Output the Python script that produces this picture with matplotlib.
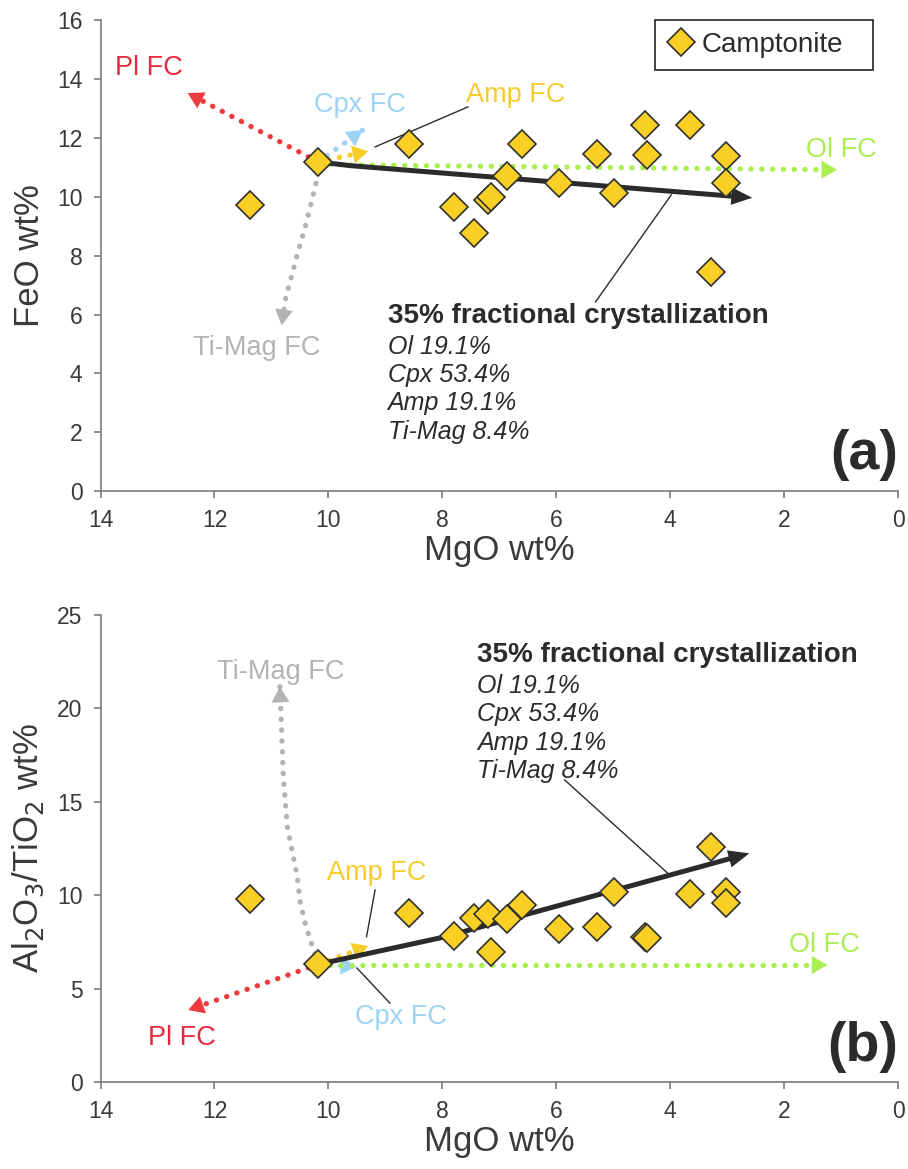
import matplotlib
matplotlib.use("agg")
import matplotlib.pyplot as plt
import numpy as np

plt.rcParams['font.family'] = ['Liberation Sans', 'DejaVu Sans']

# sample data (MgO shared by both panels)
mgo = [11.37, 10.18, 8.59, 7.79, 7.44, 7.20, 7.15, 6.86, 6.60, 5.95,
       5.29, 4.98, 4.44, 4.40, 3.65, 3.28, 3.02, 3.02]
feo = [9.73, 11.19, 11.80, 9.66, 8.78, 9.90, 10.00, 10.71, 11.80, 10.47,
       11.46, 10.13, 12.44, 11.42, 12.44, 7.46, 11.39, 10.47]
al_ti = [9.77, 6.30, 9.05, 7.83, 8.79, 8.97, 6.94, 8.70, 9.47, 8.17,
         8.27, 10.18, 7.74, 7.68, 10.05, 12.58, 10.18, 9.56]

# fractionation vectors, panel (a): FeO vs MgO
pl_a_x, pl_a_y = [10.18, 12.47], [11.19, 13.53]
cpx_a_x, cpx_a_y = [10.18, 9.40], [11.19, 12.27]
amp_a_x, amp_a_y = [10.18, 9.30], [11.19, 11.55]
ol_a_x, ol_a_y = [10.18, 1.07], [11.10, 10.92]
tim_a_x = [10.18, 10.20, 10.30, 10.41, 10.53, 10.64, 10.75, 10.82]
tim_a_y = [11.19, 10.60, 9.80, 8.95, 8.16, 7.35, 6.55, 5.64]
fc_a_x, fc_a_y = [10.18, 9.60, 2.56], [11.19, 11.06, 9.97]

# panel (b): Al2O3/TiO2 vs MgO
pl_b_x, pl_b_y = [10.17, 12.46], [6.30, 3.85]
cpx_b_x, cpx_b_y = [10.17, 9.51], [6.30, 6.17]
amp_b_x, amp_b_y = [10.17, 9.30], [6.30, 7.27]
ol_b_x, ol_b_y = [10.17, 1.24], [6.26, 6.26]
tim_b_x = [10.17, 10.28, 10.41, 10.50, 10.55, 10.64, 10.72, 10.79, 10.83, 10.85]
tim_b_y = [6.30, 7.24, 8.50, 9.73, 11.07, 12.40, 13.65, 16.26, 19.47, 21.14]
fc_b_x, fc_b_y = [10.17, 7.99, 2.61], [6.30, 7.74, 12.23]

mineral_lines = ['Ol 19.1%', 'Cpx 53.4%', 'Amp 19.1%', 'Ti-Mag 8.4%']

RED = '#ef3b3f'
BLUE = '#9dd3f5'
GOLD = '#f7cb2a'
GREEN = '#abee50'
GRAY = '#b3b3b3'
DARK = '#2b2b2b'
TXT = '#3a3a3a'


def dotted(ax, xs, ys, color):
    ax.plot(xs, ys, color=color, lw=3.8, linestyle=(0, (0.05, 2.0)),
            dash_capstyle='round', zorder=2, clip_on=False)
    ax.annotate('', xy=(xs[-1], ys[-1]), xytext=(xs[-2], ys[-2]),
                arrowprops=dict(arrowstyle='-|>,head_length=0.45,head_width=0.26',
                                color=color, lw=0, mutation_scale=25,
                                shrinkA=0, shrinkB=0), zorder=2)


def solid_arrow(ax, xs, ys):
    # stop the shaft ~10 px before the tip so the head covers it
    pts = ax.transData.transform(np.column_stack([xs, ys]))
    d = pts[-1] - pts[-2]
    end = pts[-1] - d / np.hypot(*d) * 10
    ex, ey = ax.transData.inverted().transform(end)
    ax.plot(list(xs[:-1]) + [ex], list(ys[:-1]) + [ey],
            color=DARK, lw=3.6, solid_capstyle='butt', solid_joinstyle='round', zorder=3)
    ax.annotate('', xy=(xs[-1], ys[-1]), xytext=(xs[-2], ys[-2]),
                arrowprops=dict(arrowstyle='-|>,head_length=1.0,head_width=0.42',
                                color=DARK, lw=0, mutation_scale=15,
                                shrinkA=0, shrinkB=0), zorder=3)


def style_axes(ax, ymax, ystep):
    ax.set_xlim(14, 0)
    ax.set_ylim(0, ymax)
    ax.set_xticks(range(14, -1, -2))
    ax.set_yticks(range(0, ymax + 1, ystep))
    for s in ['top', 'right']:
        ax.spines[s].set_visible(False)
    for s in ['left', 'bottom']:
        ax.spines[s].set_color('#7a7a7a')
        ax.spines[s].set_linewidth(1.2)
    ax.tick_params(direction='out', length=5, width=1.2, color='#7a7a7a',
                   labelsize=16.5, labelcolor=TXT, pad=8)
    ax.set_xlabel('MgO wt%', fontsize=25, color=TXT)
    ax.xaxis.set_label_coords(0.5, -0.092)


def text_block(ax, x, ys):
    ax.text(x, ys[0], '35% fractional crystallization', fontsize=20,
            fontweight='bold', color=DARK, ha='left', va='center')
    for t, y in zip(mineral_lines, ys[1:]):
        ax.text(x, y, t, fontsize=18, style='italic', color=DARK,
                ha='left', va='center')


fig = plt.figure(figsize=(9.08, 11.69), dpi=100)
ax1 = fig.add_axes([0.1107, 0.580, 0.8783, 0.4025])
ax2 = fig.add_axes([0.1107, 0.0744, 0.8783, 0.3999])
style_axes(ax1, 16, 2)
style_axes(ax2, 25, 5)

# ---- panel (a)
ax1.set_ylabel('FeO wt%', fontsize=25, color=TXT)
ax1.yaxis.set_label_coords(-0.068, 0.5)
dotted(ax1, pl_a_x, pl_a_y, RED)
dotted(ax1, cpx_a_x, cpx_a_y, BLUE)
dotted(ax1, amp_a_x, amp_a_y, GOLD)
dotted(ax1, ol_a_x, ol_a_y, GREEN)
dotted(ax1, tim_a_x, tim_a_y, GRAY)
solid_arrow(ax1, fc_a_x, fc_a_y)
ax1.plot(mgo, feo, 'D', ms=14.5, mfc='#f9cf26', mec='#303030', mew=1.2,
         ls='none', zorder=5, label='Camptonite')
ax1.text(13.15, 14.39, 'Pl FC', color='#e8283c', fontsize=19.5, ha='center', va='center')
ax1.text(9.45, 13.13, 'Cpx FC', color=BLUE, fontsize=19.5, ha='center', va='center')
ax1.text(6.71, 13.47, 'Amp FC', color=GOLD, fontsize=19.5, ha='center', va='center')
ax1.text(11.26, 4.86, 'Ti-Mag FC', color=GRAY, fontsize=19.5, ha='center', va='center')
ax1.text(0.99, 11.60, 'Ol FC', color=GREEN, fontsize=19.5, ha='center', va='center')
ax1.plot([9.18, 7.55], [11.70, 13.06], color=DARK, lw=1.0, zorder=4)
ax1.plot([5.31, 3.98], [6.43, 10.07], color=DARK, lw=1.0, zorder=4)
text_block(ax1, 8.96, [5.95, 4.90, 3.95, 2.99, 2.01])
ax1.text(0.0, 1.22, '(a)', fontsize=40, fontweight='bold', color=DARK,
         ha='right', va='center')
leg = ax1.legend(loc='upper left', bbox_to_anchor=(0.6953, 0.0, 0.2733, 1.0),
                 mode='expand', borderaxespad=0, fontsize=20, fancybox=False,
                 edgecolor='#333333', framealpha=1, handletextpad=0.25,
                 borderpad=0.42, handlelength=1.0)
leg.get_frame().set_linewidth(1.3)
for t in leg.get_texts():
    t.set_color(DARK)

# ---- panel (b)
ax2.set_ylabel(r'Al$_2$O$_3$/TiO$_2$ wt%', fontsize=25, color=TXT)
ax2.yaxis.set_label_coords(-0.068, 0.5)
dotted(ax2, pl_b_x, pl_b_y, RED)
dotted(ax2, cpx_b_x, cpx_b_y, BLUE)
dotted(ax2, amp_b_x, amp_b_y, GOLD)
dotted(ax2, ol_b_x, ol_b_y, GREEN)
dotted(ax2, tim_b_x, tim_b_y, GRAY)
solid_arrow(ax2, fc_b_x, fc_b_y)
ax2.plot(mgo, al_ti, 'D', ms=14.5, mfc='#f9cf26', mec='#303030', mew=1.2,
         ls='none', zorder=5)
ax2.text(12.57, 2.35, 'Pl FC', color='#e8283c', fontsize=19.5, ha='center', va='center')
ax2.text(8.72, 3.49, 'Cpx FC', color=BLUE, fontsize=19.5, ha='center', va='center')
ax2.text(9.15, 11.16, 'Amp FC', color=GOLD, fontsize=19.5, ha='center', va='center')
ax2.text(10.83, 21.94, 'Ti-Mag FC', color=GRAY, fontsize=19.5, ha='center', va='center')
ax2.text(1.29, 7.33, 'Ol FC', color=GREEN, fontsize=19.5, ha='center', va='center')
ax2.plot([9.18, 9.33], [10.27, 7.77], color=DARK, lw=1.0, zorder=4)
ax2.plot([8.92, 9.50], [4.22, 6.10], color=DARK, lw=1.0, zorder=4)
ax2.plot([5.85, 4.04], [16.15, 11.16], color=DARK, lw=1.0, zorder=4)
text_block(ax2, 7.39, [22.83, 21.18, 19.66, 18.14, 16.65])
ax2.text(0.0, 1.87, '(b)', fontsize=40, fontweight='bold', color=DARK,
         ha='right', va='center')

fig.savefig('out.png', dpi=100)
